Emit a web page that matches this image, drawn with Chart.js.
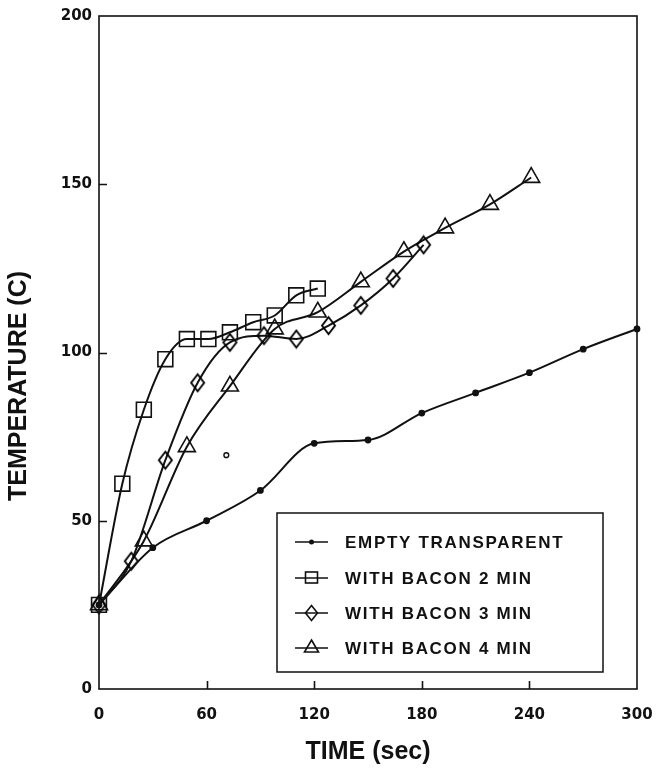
<!DOCTYPE html>
<html>
<head>
<meta charset="utf-8">
<script src="https://cdn.jsdelivr.net/npm/chart.js@4/dist/chart.umd.min.js"></script>
<style>
  html, body { margin: 0; padding: 0; background: #ffffff; }
  #wrap { position: relative; width: 656px; height: 769px; }
</style>
</head>
<body>
<div id="wrap"><canvas id="chart" width="656" height="769"></canvas></div>
<script>
// Oven temperature vs. time
const timeEmpty  = [0, 30, 60, 90, 120, 150, 180, 210, 240, 270, 300];
const tempEmpty  = [25, 42, 50, 59, 73, 74, 82, 88, 94, 101, 107];

const timeBacon2 = [0, 13, 25, 37, 49, 61, 73, 86, 98, 110, 122];
const tempBacon2 = [25, 61, 83, 98, 104, 104, 106, 109, 111, 117, 119];

const timeBacon3 = [0, 18, 37, 55, 73, 92, 110, 128, 146, 164, 181];
const tempBacon3 = [25, 38, 68, 91, 103, 105, 104, 108, 114, 122, 132];

const timeBacon4 = [0, 25, 49, 73, 98, 122, 146, 170, 193, 218, 241];
const tempBacon4 = [25, 44, 72, 90, 107, 112, 121, 130, 137, 144, 152];

// single reading plotted off the curve
const timeStray = [71];
const tempStray = [69.5];

const seriesNames = ['EMPTY TRANSPARENT', 'WITH BACON 2 MIN', 'WITH BACON 3 MIN', 'WITH BACON 4 MIN'];
const xTicks = [0, 60, 120, 180, 240, 300];
const yTicks = [0, 50, 100, 150, 200];
const xTitle = 'TIME (sec)';
const yTitle = 'TEMPERATURE (C)';

const INK = '#111111';

function pairs(xs, ys) { return xs.map((x, i) => ({ x: x, y: ys[i] })); }

function diamondImage(w, h, lw) {
  const c = document.createElement('canvas');
  c.width = w + 4; c.height = h + 4;
  const g = c.getContext('2d');
  const cx = c.width / 2, cy = c.height / 2;
  g.strokeStyle = '#000000'; g.lineWidth = lw;
  g.beginPath();
  g.moveTo(cx, cy - h / 2); g.lineTo(cx + w / 2, cy);
  g.lineTo(cx, cy + h / 2); g.lineTo(cx - w / 2, cy);
  g.closePath(); g.stroke();
  return c;
}
const diamond = diamondImage(13, 17, 1.9);

const base = {
  borderColor: INK,
  borderWidth: 2,
  pointBorderColor: INK,
  pointBackgroundColor: 'rgba(0,0,0,0)',
  pointBorderWidth: 1.6,
  cubicInterpolationMode: 'monotone',
  fill: false,
  clip: false
};

const datasets = [
  Object.assign({}, base, {
    label: seriesNames[0], data: pairs(timeEmpty, tempEmpty),
    pointStyle: 'circle', pointRadius: 2.6, pointBackgroundColor: INK
  }),
  Object.assign({}, base, {
    label: seriesNames[1], data: pairs(timeBacon2, tempBacon2),
    pointStyle: 'rect', pointRadius: 10.5
  }),
  Object.assign({}, base, {
    label: seriesNames[2], data: pairs(timeBacon3, tempBacon3),
    pointStyle: diamond, pointRadius: 9
  }),
  Object.assign({}, base, {
    label: seriesNames[3], data: pairs(timeBacon4, tempBacon4),
    pointStyle: 'triangle', pointRadius: 9.8
  }),
  Object.assign({}, base, {
    label: 'stray', data: pairs(timeStray, tempStray), showLine: false,
    pointStyle: 'circle', pointRadius: 2.4, pointBackgroundColor: '#ffffff', pointBorderWidth: 1.4
  })
];

// Frame, inward tick marks, axis titles and the boxed legend
const decorations = {
  id: 'decorations',
  afterDraw(chart) {
    const ctx = chart.ctx;
    const a = chart.chartArea;
    const xs = chart.scales.x, ys = chart.scales.y;
    ctx.save();
    ctx.strokeStyle = INK;
    ctx.lineWidth = 1.6;
    ctx.strokeRect(a.left, a.top, a.right - a.left, a.bottom - a.top);

    ctx.beginPath();
    xTicks.slice(1, -1).forEach(v => {
      const px = Math.round(xs.getPixelForValue(v)) + 0.5;
      ctx.moveTo(px, a.bottom); ctx.lineTo(px, a.bottom - 8);
    });
    yTicks.slice(1, -1).forEach(v => {
      const py = Math.round(ys.getPixelForValue(v)) + 0.5;
      ctx.moveTo(a.left, py); ctx.lineTo(a.left + 8, py);
    });
    ctx.stroke();

    // axis titles
    ctx.fillStyle = INK;
    ctx.font = 'bold 25px "Liberation Sans", Arial, sans-serif';
    ctx.textAlign = 'center';
    ctx.textBaseline = 'middle';
    ctx.fillText(xTitle, (a.left + a.right) / 2, 752);
    ctx.save();
    ctx.translate(19, 386);
    ctx.rotate(-Math.PI / 2);
    ctx.fillText(yTitle, 0, 0);
    ctx.restore();

    // legend
    const box = { l: 277, t: 513, r: 603, b: 672 };
    ctx.lineWidth = 1.5;
    ctx.strokeRect(box.l, box.t, box.r - box.l, box.b - box.t);
    const rows = [542, 578, 613, 648];
    const x0 = 295, x1 = 328, xm = (x0 + x1) / 2;
    ctx.font = 'bold 17px "Liberation Sans", Arial, sans-serif';
    ctx.textAlign = 'left';
    if ('letterSpacing' in ctx) ctx.letterSpacing = '1.7px';
    rows.forEach((y, i) => {
      ctx.lineWidth = 1.6;
      ctx.beginPath(); ctx.moveTo(x0, y); ctx.lineTo(x1, y); ctx.stroke();
      ctx.beginPath();
      if (i === 0) {
        ctx.arc(xm, y, 2.5, 0, Math.PI * 2); ctx.fill();
      } else if (i === 1) {
        ctx.strokeRect(xm - 6, y - 6, 12, 11);
      } else if (i === 2) {
        ctx.moveTo(xm, y - 7.5); ctx.lineTo(xm + 6, y); ctx.lineTo(xm, y + 7.5); ctx.lineTo(xm - 6, y);
        ctx.closePath(); ctx.stroke();
      } else {
        ctx.moveTo(xm, y - 8); ctx.lineTo(xm + 7, y + 4); ctx.lineTo(xm - 7, y + 4);
        ctx.closePath(); ctx.stroke();
      }
      ctx.fillText(seriesNames[i], 345, y + 1);
    });
    ctx.restore();
  }
};

new Chart(document.getElementById('chart'), {
  type: 'line',
  data: { datasets: datasets },
  options: {
    responsive: false,
    animation: false,
    events: [],
    layout: { padding: { left: 0, right: 19, top: 16, bottom: 0 } },
    plugins: { legend: { display: false }, tooltip: { enabled: false } },
    scales: {
      x: {
        type: 'linear', min: 0, max: 300,
        afterBuildTicks: s => { s.ticks = xTicks.map(v => ({ value: v })); },
        afterFit: s => { s.height = 80; s.paddingLeft = 0; s.paddingRight = 0; },
        grid: { display: false, drawTicks: false },
        border: { display: false },
        ticks: {
          padding: 17, color: INK, maxRotation: 0, autoSkip: false,
          font: { family: '"DejaVu Sans", sans-serif', weight: 'bold', size: 15 }
        }
      },
      y: {
        type: 'linear', min: 0, max: 200,
        afterBuildTicks: s => { s.ticks = yTicks.map(v => ({ value: v })); },
        afterFit: s => { s.width = 99; s.paddingTop = 0; s.paddingBottom = 0; },
        grid: { display: false, drawTicks: false },
        border: { display: false },
        ticks: {
          padding: 7, color: INK,
          font: { family: '"DejaVu Sans", sans-serif', weight: 'bold', size: 15 }
        }
      }
    }
  },
  plugins: [decorations]
});
</script>
</body>
</html>
